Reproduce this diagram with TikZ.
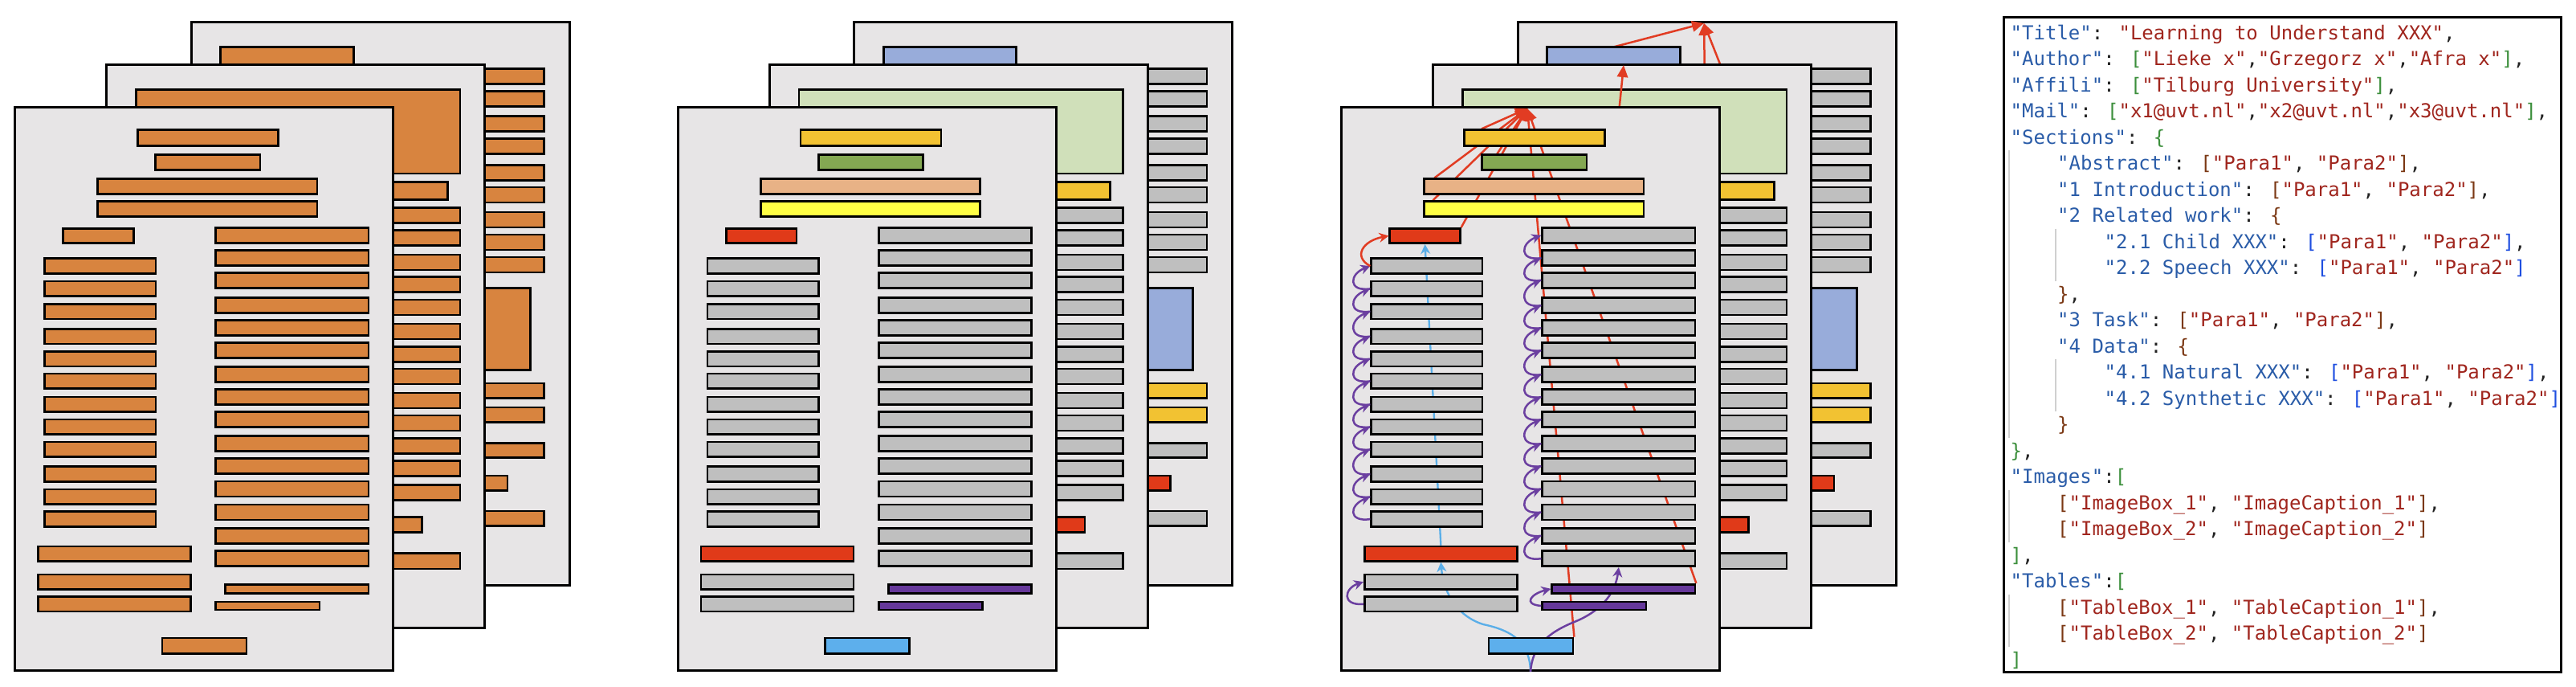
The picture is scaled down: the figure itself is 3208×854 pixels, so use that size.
\documentclass[tikz,border=0pt]{standalone}
\usepackage{fontspec}
\usetikzlibrary{fit,calc,arrows.meta}
\newfontfamily\jf{DejaVu Sans Mono}
\definecolor{pagefill}{HTML}{E7E5E6}
\definecolor{orng}{HTML}{D8843F}
\definecolor{gry}{HTML}{BFBFBF}
\definecolor{rd}{HTML}{E03A19}
\definecolor{gold}{HTML}{F2C232}
\definecolor{grn}{HTML}{84A852}
\definecolor{peach}{HTML}{E8B286}
\definecolor{ylw}{HTML}{FFFF45}
\definecolor{lblue}{HTML}{5DAFEC}
\definecolor{purp}{HTML}{66389A}
\definecolor{lgrn}{HTML}{D0E0BA}
\definecolor{pblue}{HTML}{98ACDA}
\definecolor{arrred}{HTML}{E13C23}
\definecolor{arrpurp}{HTML}{6B3FA0}
\definecolor{arrblue}{HTML}{5AAEE8}
\definecolor{jkey}{HTML}{2A5CA8}
\definecolor{jstr}{HTML}{A0261E}
\definecolor{jgreen}{HTML}{3C8F3C}
\definecolor{jbrown}{HTML}{7B3814}
\definecolor{jblue}{HTML}{1F4FE0}
\definecolor{jpunct}{HTML}{222222}
\definecolor{guidegray}{HTML}{D0D0D0}
\newcommand\jK[1]{\textcolor{jkey}{#1}}
\newcommand\jS[1]{\textcolor{jstr}{#1}}
\newcommand\jG[1]{\textcolor{jgreen}{#1}}
\newcommand\jB[1]{\textcolor{jbrown}{#1}}
\newcommand\jU[1]{\textcolor{jblue}{#1}}
\pgfdeclarelayer{bfill}\pgfdeclarelayer{barr}\pgfdeclarelayer{bbox}
\pgfdeclarelayer{mfill}\pgfdeclarelayer{marr}\pgfdeclarelayer{mbox}
\pgfdeclarelayer{ffill}\pgfdeclarelayer{farr}\pgfdeclarelayer{fbox}
\pgfsetlayers{bfill,barr,bbox,mfill,marr,mbox,ffill,farr,fbox,main}
\tikzset{
 pagebox/.style={draw=black,line width=0.9pt,fill=pagefill,inner sep=0pt},
 bar/.style={draw=black,line width=0.8pt,inner sep=0pt},
 redarr/.style={draw=arrred,line width=0.75pt,-{Triangle[length=4.5pt,width=4pt]}},
 curl/.style={draw=arrpurp,line width=0.75pt,-{Stealth[length=3.6pt,width=3.6pt]}},
 redcurl/.style={draw=arrred,line width=0.75pt,-{Stealth[length=3.6pt,width=3.6pt]}},
 bluearr/.style={draw=arrblue,line width=0.7pt,-{Stealth[length=3.6pt,width=3.6pt]}},
 guide/.style={draw=guidegray,line width=0.5pt},
 jtext/.style={anchor=base west,inner sep=0pt,font=\jf\fontsize{7.2pt}{9pt}\selectfont,text=jpunct},
}
\newcommand\bx[6]{\node[bar,fill=#2,fit={(\ox+#3,\oy+#4)(\ox+#5,\oy+#6)}] (#1) {};}
\newcommand\backpage[2]{%
 \pgfmathsetmacro\ox{238+#2}\def\oy{27}%
 \begin{pgfonlayer}{bfill}
  \node[pagebox,fit={(\ox,\oy)(\ox+471,\oy+701)}] (#1-bpage) {};
 \end{pgfonlayer}
 \begin{pgfonlayer}{bbox}
  \bx{#1-btop}{cBTop}{36.7}{31.3}{202.3}{60}
  \foreach \yy [count=\i] in {58.5,86.8,117.3,145.6,178.3,206,237,265,293}
   {\bx{#1-bR\i}{cText}{249.9}{\yy}{439.5}{\yy+19}}
  \bx{#1-bimg}{cBImg}{249.9}{331.3}{422.3}{433.7}
  \bx{#1-bg1}{cGold}{249.9}{450}{439.5}{468.6}
  \bx{#1-bg2}{cGold}{249.9}{480}{439.5}{498.5}
  \bx{#1-bt1}{cText}{249.9}{524.7}{439.5}{542.6}
  \bx{#1-bred}{cRed}{249.9}{565}{393.9}{583.5}
  \bx{#1-bt2}{cText}{249.9}{609}{439.5}{627.6}
 \end{pgfonlayer}}
\newcommand\midpage[2]{%
 \pgfmathsetmacro\ox{132.5+#2}\def\oy{80}%
 \begin{pgfonlayer}{mfill}
  \node[pagebox,fit={(\ox,\oy)(\ox+471,\oy+701)}] (#1-mpage) {};
 \end{pgfonlayer}
 \begin{pgfonlayer}{mbox}
  \bx{#1-mimg}{cMImg}{37}{31.7}{440.5}{136}
  \bx{#1-mhead}{cGold}{249.9}{146.7}{424.8}{168.3}
  \foreach \yy [count=\i] in {178.5,206.5,237,264.8,293,323,351.3,379,409,437,465.3,493.5,523.5}
   {\bx{#1-M\i}{cText}{249.9}{\yy}{440.5}{\yy+19}}
  \bx{#1-mred}{cRed}{249.9}{563.7}{393}{582.8}
  \bx{#1-mlast}{cText}{249.9}{608.4}{440.5}{628}
 \end{pgfonlayer}}
\newcommand\frontpage[2]{%
 \pgfmathsetmacro\ox{18.75+#2}\def\oy{133.4}%
 \begin{pgfonlayer}{ffill}
  \node[pagebox,fit={(\ox,\oy)(\ox+471,\oy+701)}] (#1-page) {};
 \end{pgfonlayer}
 \begin{pgfonlayer}{fbox}
  \bx{#1-title}{cTitle}{152.6}{28.3}{327.6}{48}
  \bx{#1-author}{cAuthor}{175}{59.3}{305.3}{78.3}
  \bx{#1-affil}{cAffil}{103}{89.3}{376.3}{108.3}
  \bx{#1-mail}{cMail}{103}{117.3}{376.3}{136.3}
  \bx{#1-head}{cHead}{60}{150.9}{147.6}{169.3}
  \foreach \yy [count=\i] in {188.3,216.6,244.9,275.9,303.9,331.6,360.6,388.6,416.6,447.3,475.6,503.3}
   {\bx{#1-L\i}{cText}{36.9}{\yy}{175.3}{\yy+18.8}}
  \bx{#1-Lred}{cCap}{28.6}{546.6}{218.6}{564.9}
  \bx{#1-Lg1}{cText}{28.6}{581.6}{218.6}{599.9}
  \bx{#1-Lg2}{cText}{28.6}{609.3}{218.6}{627.6}
  \bx{#1-pnum}{cPnum}{183.3}{660.6}{288.3}{680}
  \foreach \yy [count=\i] in {149.9,178.3,205.9,237.3,265.3,293.3,323.3,351.3,379.3,409.3,437.3,465.6,494.6,523.9,552.3}
   {\bx{#1-R\i}{cText}{249.9}{\yy}{440.3}{\yy+19}}
  \bx{#1-P1}{cTab}{262}{593.9}{440.3}{604.9}
  \bx{#1-P2}{cTab}{249.9}{615.6}{379.3}{625.6}
 \end{pgfonlayer}}
\begin{document}
\begin{tikzpicture}[x=0.3pt,y=-0.3pt]
\useasboundingbox (0,0) rectangle (3208,854);
\begin{pgfonlayer}{bfill}
 \fill[white] (0,0) rectangle (3208,854);
\end{pgfonlayer}
% ---------- panel 1: all orange
\colorlet{cTitle}{orng}\colorlet{cAuthor}{orng}\colorlet{cAffil}{orng}\colorlet{cMail}{orng}
\colorlet{cHead}{orng}\colorlet{cText}{orng}\colorlet{cCap}{orng}\colorlet{cPnum}{orng}
\colorlet{cTab}{orng}\colorlet{cMImg}{orng}\colorlet{cGold}{orng}\colorlet{cRed}{orng}
\colorlet{cBTop}{orng}\colorlet{cBImg}{orng}
\backpage{a}{0}\midpage{a}{0}\frontpage{a}{0}
% ---------- panel 2: coloured
\colorlet{cTitle}{gold}\colorlet{cAuthor}{grn}\colorlet{cAffil}{peach}\colorlet{cMail}{ylw}
\colorlet{cHead}{rd}\colorlet{cText}{gry}\colorlet{cCap}{rd}\colorlet{cPnum}{lblue}
\colorlet{cTab}{purp}\colorlet{cMImg}{lgrn}\colorlet{cGold}{gold}\colorlet{cRed}{rd}
\colorlet{cBTop}{pblue}\colorlet{cBImg}{pblue}
\backpage{b}{825.5}\midpage{b}{825.5}\frontpage{b}{825.5}
% ---------- panel 3: coloured with links
\backpage{c}{1652}\midpage{c}{1652}\frontpage{c}{1652}
\coordinate (c-froot) at (1902,135);
\coordinate (c-mroot) at (2022,81);
\coordinate (c-broot) at (2122,29);
\coordinate (c-bot) at (1906,836);
\coordinate (c-fhid) at (2015,150);
\coordinate (c-mhidA) at (1908,85);
\coordinate (c-mhidB) at (2123,100);
\coordinate (c-mhidC) at (2150,100);
\begin{pgfonlayer}{barr}
 \draw[redarr] (c-mhidA) -- (c-broot);
 \draw[redarr] (c-mhidB) -- (c-broot);
 \draw[redarr] (c-mhidC) -- (c-broot);
\end{pgfonlayer}
\begin{pgfonlayer}{mbox}
 \draw[redarr] (c-fhid) -- (c-mroot);
\end{pgfonlayer}
\begin{pgfonlayer}{farr}
 \draw[redarr] ($(c-title.north west)+(23,0)$) -- (c-froot);
 \draw[redarr] ($(c-author.north west)+(20,0)$) -- (c-froot);
 \draw[redarr] ($(c-affil.north west)+(14,0)$) -- (c-froot);
 \draw[redarr] ($(c-mail.north west)+(12,0)$) -- (c-froot);
 \draw[redarr] (c-head.north east) -- (c-froot);
 \draw[redarr] (c-pnum.north east) -- (c-froot);
 \draw[redarr] (c-P1.north east) -- (c-froot);
 \draw[bluearr] (c-Lred.north) -- (c-head.south);
 \draw[bluearr] (c-bot) .. controls (1905,800) and (1885,785) .. (1847,777) .. controls (1818,768) and (1798,742) .. (c-Lred.south);
 \draw[curl] (c-bot) .. controls (1908,806) and (1925,788) .. (1963,773) .. controls (1998,758) and (2012,735) .. (c-R15.south);
\end{pgfonlayer}
\foreach \i in {2,...,12}{\pgfmathtruncatemacro\j{\i-1}
 \draw[curl] (c-L\i.west) .. controls +(-28,4) and +(-26,10) .. (c-L\j.west);}
\foreach \i in {2,...,15}{\pgfmathtruncatemacro\j{\i-1}
 \draw[curl] (c-R\i.west) .. controls +(-28,4) and +(-26,10) .. (c-R\j.west);}
\draw[redcurl] (c-L1.west) .. controls +(-22,-12) and +(-32,6) .. (c-head.west);
\draw[curl] (c-Lg2.west) .. controls +(-28,2) and +(-24,8) .. (c-Lg1.west);
\draw[curl] (c-P2.west) .. controls +(-24,-2) and +(-24,6) .. (c-P1.west);
% ---------- JSON panel
\node[draw=black,line width=0.9pt,fill=white,inner sep=0pt,fit={(2495.8,21.8)(3189,836)}] (json) {};
\draw[guide] (2502,187) -- (2502,544.5);
\draw[guide] (2560,284.5) -- (2560,349.5);
\draw[guide] (2560,447) -- (2560,512);
\draw[guide] (2502,609.5) -- (2502,674.5);
\draw[guide] (2502,739.5) -- (2502,804.5);
\node[jtext] (j1) at (2503,49.3) {\jK{"Title"}: \jS{"Learning to Understand XXX"},};
\node[jtext] (j2) at (2503,81.8) {\jK{"Author"}: \jG{[}\jS{"Lieke x"},\jS{"Grzegorz x"},\jS{"Afra x"}\jG{]},};
\node[jtext] (j3) at (2503,114.3) {\jK{"Affili"}: \jG{[}\jS{"Tilburg University"}\jG{]},};
\node[jtext] (j4) at (2503,146.8) {\jK{"Mail"}: \jG{[}\jS{"x1@uvt.nl"},\jS{"x2@uvt.nl"},\jS{"x3@uvt.nl"}\jG{]},};
\node[jtext] (j5) at (2503,179.3) {\jK{"Sections"}: \jG{\{}};
\node[jtext] (j6) at (2561.5,211.8) {\jK{"Abstract"}: \jB{[}\jS{"Para1"}, \jS{"Para2"}\jB{]},};
\node[jtext] (j7) at (2561.5,244.3) {\jK{"1 Introduction"}: \jB{[}\jS{"Para1"}, \jS{"Para2"}\jB{]},};
\node[jtext] (j8) at (2561.5,276.8) {\jK{"2 Related work"}: \jB{\{}};
\node[jtext] (j9) at (2620,309.3) {\jK{"2.1 Child XXX"}: \jU{[}\jS{"Para1"}, \jS{"Para2"}\jU{]},};
\node[jtext] (j10) at (2620,341.8) {\jK{"2.2 Speech XXX"}: \jU{[}\jS{"Para1"}, \jS{"Para2"}\jU{]}};
\node[jtext] (j11) at (2561.5,374.3) {\jB{\}},};
\node[jtext] (j12) at (2561.5,406.8) {\jK{"3 Task"}: \jB{[}\jS{"Para1"}, \jS{"Para2"}\jB{]},};
\node[jtext] (j13) at (2561.5,439.3) {\jK{"4 Data"}: \jB{\{}};
\node[jtext] (j14) at (2620,471.8) {\jK{"4.1 Natural XXX"}: \jU{[}\jS{"Para1"}, \jS{"Para2"}\jU{]},};
\node[jtext] (j15) at (2620,504.3) {\jK{"4.2 Synthetic XXX"}: \jU{[}\jS{"Para1"}, \jS{"Para2"}\jU{]}};
\node[jtext] (j16) at (2561.5,536.8) {\jB{\}}};
\node[jtext] (j17) at (2503,569.3) {\jG{\}},};
\node[jtext] (j18) at (2503,601.8) {\jK{"Images"}:\jG{[}};
\node[jtext] (j19) at (2561.5,634.3) {\jB{[}\jS{"ImageBox\_1"}, \jS{"ImageCaption\_1"}\jB{]},};
\node[jtext] (j20) at (2561.5,666.8) {\jB{[}\jS{"ImageBox\_2"}, \jS{"ImageCaption\_2"}\jB{]}};
\node[jtext] (j21) at (2503,699.3) {\jG{]},};
\node[jtext] (j22) at (2503,731.8) {\jK{"Tables"}:\jG{[}};
\node[jtext] (j23) at (2561.5,764.3) {\jB{[}\jS{"TableBox\_1"}, \jS{"TableCaption\_1"}\jB{]},};
\node[jtext] (j24) at (2561.5,796.8) {\jB{[}\jS{"TableBox\_2"}, \jS{"TableCaption\_2"}\jB{]}};
\node[jtext] (j25) at (2503,829.3) {\jG{]}};
\end{tikzpicture}
\end{document}
